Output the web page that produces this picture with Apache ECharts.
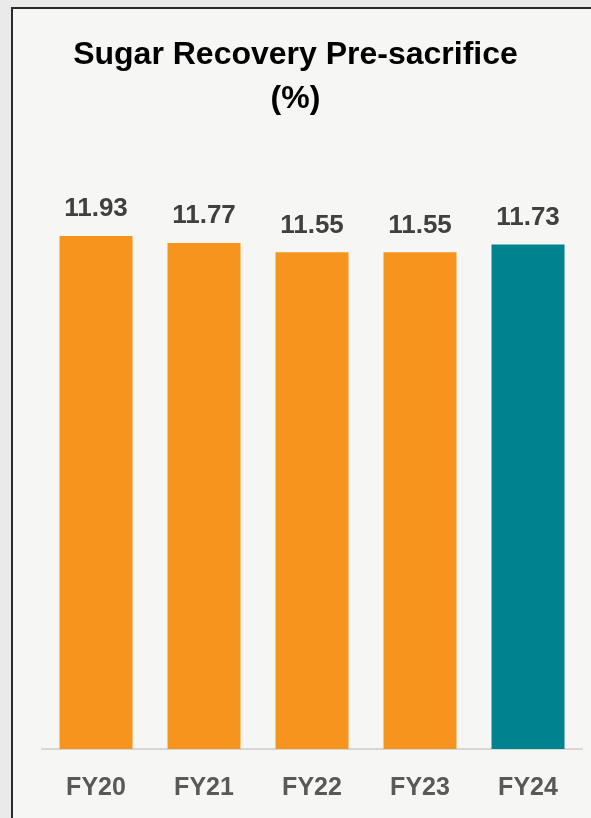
<!DOCTYPE html>
<html>
<head>
<meta charset="utf-8">
<script src="https://cdn.jsdelivr.net/npm/echarts@6/dist/echarts.min.js"></script>
<style>
  html, body { margin: 0; padding: 0; background: #eaeaea; overflow: hidden; width: 591px; height: 818px; }
  #frame {
    position: absolute; left: 11px; top: 7px; width: 590px; height: 811px;
    box-sizing: border-box;
    border-left: 2px solid #2b2b2b; border-top: 2px solid #2b2b2b;
    background: #f6f7f4;
  }
  #chart { position: absolute; left: 0; top: 0; width: 591px; height: 818px; }
</style>
</head>
<body>
<div id="frame"></div>
<div id="chart"></div>
<script>
var years = ['FY20', 'FY21', 'FY22', 'FY23', 'FY24'];
var recovery = [11.93, 11.77, 11.55, 11.55, 11.73];
var barColors = ['#f7941d', '#f7941d', '#f7941d', '#f7941d', '#00838f'];

var myChart = echarts.init(document.getElementById('chart'));
var option = {
  backgroundColor: 'transparent',
  title: {
    text: 'Sugar Recovery Pre-sacrifice\n(%)',
    left: 'center',
    top: 28,
    textStyle: {
      fontFamily: 'Liberation Sans',
      fontWeight: 'bold',
      fontSize: 32,
      lineHeight: 44,
      color: '#000'
    }
  },
  grid: { left: 42, right: 9, top: 147, bottom: 69 },
  xAxis: {
    type: 'category',
    data: years,
    axisLine: { lineStyle: { color: '#d6d6d6', width: 2 } },
    axisTick: { show: false },
    axisLabel: {
      margin: 27,
      fontFamily: 'Liberation Sans',
      fontWeight: 'bold',
      fontSize: 25,
      color: '#595959'
    }
  },
  yAxis: {
    type: 'value',
    min: 0,
    max: 14,
    show: false
  },
  series: [{
    type: 'bar',
    barWidth: 73,
    data: recovery.map(function (v, i) {
      return { value: v, itemStyle: { color: barColors[i] } };
    }),
    label: {
      show: true,
      position: 'top',
      distance: 14,
      formatter: function (p) { return p.value.toFixed(2); },
      fontFamily: 'Liberation Sans',
      fontWeight: 'bold',
      fontSize: 26,
      color: '#404040'
    }
  }]
};
myChart.setOption(option);
window.onresize = function () { myChart.resize(); };
</script>
</body>
</html>
